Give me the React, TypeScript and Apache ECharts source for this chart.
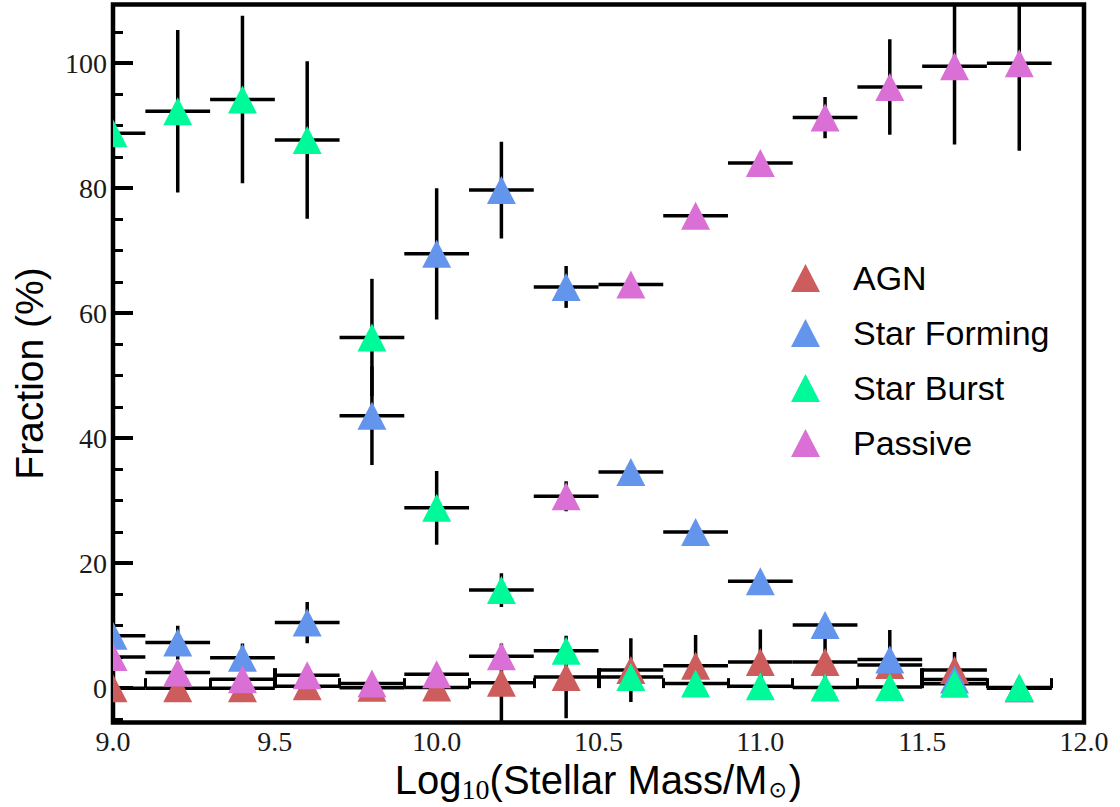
import React, { useEffect, useRef } from "react";
import * as echarts from "echarts";

// ---- data ----
const massBins = [9.0, 9.2, 9.4, 9.6, 9.8, 10.0, 10.2, 10.4, 10.6, 10.8, 11.0, 11.2, 11.4, 11.6, 11.8];
const binHalfWidth = 0.1;

const agnFrac = [0, 0, 0, 0.3, 0.05, 0.1, 0.85, 1.8, 2.9, 3.6, 4.2, 4.2, 3.7, 2.9, 0];
const agnErr = [0, 0, 0, 0, 0, 0, 6.3, 6.6, 5.1, 4.9, 5.2, 5.0, 5.6, 2.9, 0];

const sfFrac = [8.4, 7.3, 4.85, 10.5, 43.6, 69.5, 79.7, 64.2, 34.6, 25.0, 17.1, 10.1, 4.6, 1.4, 0];
const sfErr = [2.5, 2.7, 2.3, 3.3, 7.9, 10.5, 7.75, 3.35, 1.0, 0.8, 0.7, 1.2, 0.8, 0.5, 0];

const sbFrac = [88.8, 92.3, 94.2, 87.7, 56.1, 28.85, 15.7, 6.0, 1.8, 0.75, 0.3, 0.1, 0.2, 0.7, 0.1];
const sbErr = [13, 13, 13.4, 12.6, 9.4, 5.9, 2.7, 1.0, 0.5, 0.3, 0.3, 0.2, 0.3, 0.3, 0.2];

const passiveFrac = [5.0, 2.5, 1.44, 2.08, 0.75, 2.24, 5.1, 30.7, 64.6, 75.6, 84.05, 91.3, 96.2, 99.5, 100.0];
const passiveErr = [0.5, 0.5, 0.5, 0.5, 0.3, 0.5, 0.5, 2.4, 0.5, 0.8, 0.8, 3.3, 7.65, 12.5, 14];

const xMin = 9.0;
const xMax = 12.0;
const yMin = -5.5;
const yMax = 109.4;
const yMajorTicks = [0, 20, 40, 60, 80, 100];
const yMinorTicks = [-5, 5, 10, 15, 25, 30, 35, 45, 50, 55, 65, 70, 75, 85, 90, 95, 105];

const seriesDefs = [
  { name: "AGN", color: "#cd5c5c", values: agnFrac, errors: agnErr },
  { name: "Star Forming", color: "#6495ed", values: sfFrac, errors: sfErr },
  { name: "Star Burst", color: "#00fa9a", values: sbFrac, errors: sbErr },
  { name: "Passive", color: "#da70d6", values: passiveFrac, errors: passiveErr },
];

const MARKER_W = 29;
const MARKER_H = 28;

const clamp = (v: number, lo: number, hi: number) => Math.max(lo, Math.min(hi, v));

function errorBarSeries(def: any) {
  return {
    type: "custom",
    name: def.name + " errors",
    clip: true,
    silent: true,
    z: 2,
    encode: { x: 0, y: 1 },
    data: massBins.map((x, i) => [x, def.values[i], def.errors[i]]),
    renderItem: (_params: any, api: any) => {
      const x = api.value(0);
      const y = api.value(1);
      const e = api.value(2);
      const style = { stroke: "#000", lineWidth: 3.5 };
      const l = api.coord([clamp(x - binHalfWidth, xMin, xMax), y]);
      const r = api.coord([clamp(x + binHalfWidth, xMin, xMax), y]);
      const children: any[] = [
        { type: "line", shape: { x1: l[0], y1: l[1], x2: r[0], y2: r[1] }, style },
      ];
      if (e > 0) {
        const t = api.coord([x, clamp(y + e, yMin, yMax)]);
        const b = api.coord([x, clamp(y - e, yMin, yMax)]);
        children.push({ type: "line", shape: { x1: t[0], y1: t[1], x2: b[0], y2: b[1] }, style });
      }
      return { type: "group", children };
    },
  };
}

function markerSeries(def: any) {
  return {
    type: "custom",
    name: def.name,
    clip: true,
    silent: true,
    z: 3,
    itemStyle: { color: def.color },
    encode: { x: 0, y: 1 },
    data: massBins.map((x, i) => [x, def.values[i]]),
    renderItem: (_params: any, api: any) => {
      const c = api.coord([api.value(0), api.value(1)]);
      const hw = MARKER_W / 2;
      const hh = MARKER_H / 2;
      return {
        type: "polygon",
        shape: {
          points: [
            [c[0], c[1] - hh],
            [c[0] - hw, c[1] + hh],
            [c[0] + hw, c[1] + hh],
          ],
        },
        style: { fill: def.color, stroke: "none" },
      };
    },
  };
}

export default function App() {
  const ref = useRef<HTMLDivElement>(null);

  useEffect(() => {
    if (!ref.current) return;
    const chart = echarts.init(ref.current, undefined, { renderer: "svg" });
    const tickLabelStyle = {
      fontFamily: "Liberation Serif",
      fontSize: 28,
      color: "#1a1a1a",
      lineHeight: 28,
    };
    const sansMain = {
      fontFamily: "Liberation Sans",
      fontSize: 40,
      lineHeight: 40,
      color: "#000",
      verticalAlign: "top",
    };
    const option: any = {
      animation: false,
      backgroundColor: "#fff",
      grid: {
        left: 113,
        right: 36,
        top: 4.5,
        bottom: 84.5,
        show: true,
        containLabel: false,
        outerBoundsMode: "none",
        borderColor: "#000",
        borderWidth: 4.5,
        backgroundColor: "transparent",
      },
      legend: {
        data: seriesDefs.map((d) => d.name),
        orient: "vertical",
        left: 791,
        top: 261,
        padding: 0,
        itemGap: 21,
        itemWidth: MARKER_W,
        itemHeight: MARKER_H,
        icon: "triangle",
        selectedMode: false,
        textStyle: {
          fontFamily: "Liberation Sans",
          fontSize: 34,
          lineHeight: 34,
          color: "#000",
          padding: [0, 0, 0, 28],
        },
      },
      xAxis: {
        type: "value",
        min: xMin,
        max: xMax,
        interval: 0.5,
        name: "{a|Log}{s|10}{a|(Stellar Mass/M}{o|⊙}{a|)}",
        nameLocation: "middle",
        nameGap: 32,
        nameTextStyle: {
          rich: {
            a: sansMain,
            s: {
              fontFamily: "Liberation Serif",
              fontSize: 28,
              lineHeight: 28,
              color: "#000",
              verticalAlign: "top",
              padding: [15, 0, 0, 0],
            },
            o: {
              fontFamily: "DejaVu Sans",
              fontSize: 22,
              lineHeight: 22,
              color: "#000",
              verticalAlign: "top",
              padding: [18, 2, 0, 1],
            },
          },
        },
        axisLine: { show: false },
        splitLine: { show: false },
        axisTick: { show: true, inside: true, length: 20, lineStyle: { color: "#000", width: 4 } },
        minorTick: { show: true, splitNumber: 5, length: 10, lineStyle: { color: "#000", width: 3 } },
        axisLabel: {
          ...tickLabelStyle,
          margin: 5,
          showMinLabel: true,
          showMaxLabel: true,
          formatter: (v: number) => v.toFixed(1),
        },
      },
      yAxis: [
        {
          type: "value",
          min: yMin,
          max: yMax,
          name: "Fraction (%)",
          nameLocation: "middle",
          nameGap: 64,
          nameRotate: 90,
          nameTextStyle: {
            fontFamily: "Liberation Sans",
            fontSize: 39,
            lineHeight: 39,
            color: "#000",
            padding: [0, 20, 0, 0],
          },
          axisLine: { show: false },
          splitLine: { show: false },
          axisTick: {
            show: true,
            inside: true,
            length: 20,
            customValues: yMajorTicks,
            lineStyle: { color: "#000", width: 4 },
          },
          axisLabel: { ...tickLabelStyle, margin: 6, customValues: yMajorTicks },
        },
        {
          type: "value",
          min: yMin,
          max: yMax,
          position: "left",
          axisLine: { show: false },
          splitLine: { show: false },
          axisTick: {
            show: true,
            inside: true,
            length: 10,
            customValues: yMinorTicks,
            lineStyle: { color: "#000", width: 3 },
          },
          axisLabel: { show: false },
        },
      ],
      series: [...seriesDefs.map(errorBarSeries), ...seriesDefs.map(markerSeries)],
    };
    chart.setOption(option);
    return () => chart.dispose();
  }, []);

  return (
    <div
      ref={ref}
      style={{ position: "fixed", left: 0, top: 0, width: 1120, height: 807, background: "#fff" }}
    />
  );
}
